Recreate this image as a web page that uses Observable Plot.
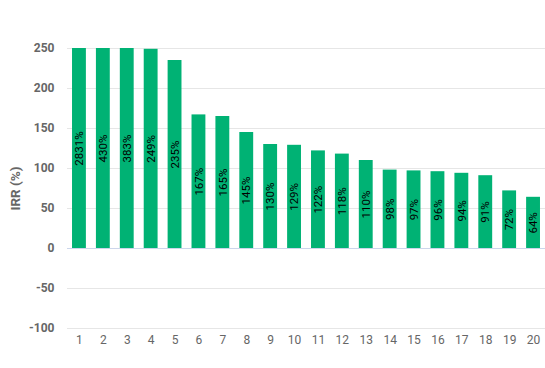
<!DOCTYPE html>
<html>
<head>
<meta charset="utf-8">
<script src="https://cdn.jsdelivr.net/npm/d3@7"></script>
<script src="https://cdn.jsdelivr.net/npm/@observablehq/plot@0.6"></script>
<style>
  html, body { margin: 0; padding: 0; background: #fff; }
  #chart { width: 545px; height: 368px; }
  svg { font-family: Roboto, "Open Sans", sans-serif; }
</style>
</head>
<body>
<div id="chart"></div>
<script>
const categories = ["1","2","3","4","5","6","7","8","9","10","11","12","13","14","15","16","17","18","19","20"];
const irrValues = [2831, 430, 383, 249, 235, 167, 165, 145, 130, 129, 122, 118, 110, 98, 97, 96, 94, 91, 72, 64];
const yTicks = [-100, -50, 0, 50, 100, 150, 200, 250];
const yMax = 250;
const yMin = -100;
const yTitle = "IRR (%)";

const data = categories.map((c, i) => ({
  cat: c,
  value: irrValues[i],
  shown: Math.min(irrValues[i], yMax),
  label: irrValues[i] + "%"
}));

const chart = Plot.plot({
  width: 545,
  height: 368,
  marginLeft: 67,
  marginRight: 0,
  marginTop: 48,
  marginBottom: 40,
  style: { fontFamily: "Roboto, sans-serif", background: "#fff" },
  x: { domain: categories, paddingInner: 0.42, paddingOuter: 0.21, round: false, label: null },
  y: { domain: [yMin, yMax], label: null },
  marks: [
    Plot.ruleY(yTicks, { stroke: "#e6e6e6", strokeWidth: 1 }),
    Plot.barY(data, { x: "cat", y: "shown", fill: "#00b274" }),
    Plot.ruleY([0], { stroke: "#ccd6eb", strokeWidth: 1 }),
    Plot.text(data, {
      x: "cat",
      y: d => d.shown / 2,
      text: "label",
      rotate: -90,
      textAnchor: "middle",
      fill: "#000",
      fontSize: 11.5
    }),
    Plot.axisX({
      tickSize: 0,
      tickPadding: 7,
      fontSize: 12,
      fill: "#666",
      label: null
    }),
    Plot.axisY({
      ticks: yTicks,
      tickFormat: d => String(d),
      tickSize: 0,
      tickPadding: 13,
      fontSize: 12,
      fontWeight: "bold",
      fill: "#666",
      label: null
    }),
    Plot.text([yTitle], {
      frameAnchor: "left",
      dx: -52,
      rotate: -90,
      text: d => d,
      fontSize: 13.5,
      fontWeight: "bold",
      fill: "#666",
      textAnchor: "middle"
    })
  ]
});
document.getElementById("chart").appendChild(chart);
</script>
</body>
</html>
